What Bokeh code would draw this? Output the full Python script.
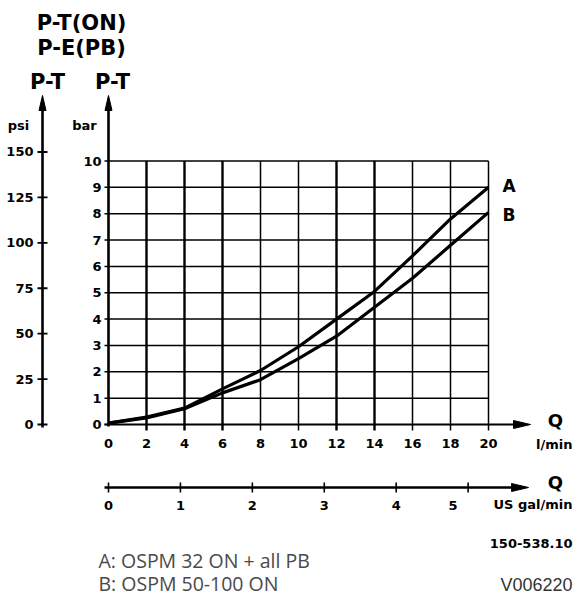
from bokeh.plotting import figure
from bokeh.models import Range1d
from bokeh.embed import file_html
from bokeh.resources import INLINE
from bokeh.core.properties import value

# ---------------- data ----------------
flow_lpm = [0, 2, 4, 6, 8, 10, 12, 14, 16, 18, 20]
curve_a_bar = [0.05, 0.28, 0.62, 1.35, 2.05, 2.95, 4.0, 5.05, 6.4, 7.8, 9.0]
curve_b_bar = [0.05, 0.25, 0.6, 1.2, 1.7, 2.5, 3.35, 4.45, 5.55, 6.8, 8.05]

lpm_ticks = [0, 2, 4, 6, 8, 10, 12, 14, 16, 18, 20]
bar_ticks = [0, 1, 2, 3, 4, 5, 6, 7, 8, 9, 10]
psi_ticks = [0, 25, 50, 75, 100, 125, 150]
gal_ticks = [0, 1, 2, 3, 4, 5]

PSI_PER_BAR = 14.5038
LPM_PER_GAL = 3.78541

legend_lines = ["A: OSPM 32 ON + all PB", "B: OSPM 50-100 ON"]

# ---------------- layout (pixel scale of data units) ----------------
W, H = 573, 597
PX_X = 19.0      # pixels per l/min
PX_Y = 26.35     # pixels per bar
ORIGIN_X, ORIGIN_Y = 108, 424   # canvas pixel position of (0 l/min, 0 bar)

def dx(px):
    return px / PX_X

def dy(px):
    return px / PX_Y

def X(cx):
    return (cx - ORIGIN_X) / PX_X

def Y(cy):
    return (ORIGIN_Y - cy) / PX_Y

x0 = X(0)
y1 = Y(0)
p = figure(width=W, height=H, output_backend="svg", toolbar_location=None,
           x_range=Range1d(x0, x0 + W / PX_X), y_range=Range1d(y1 - H / PX_Y, y1),
           x_axis_location=None, y_axis_location=None, title=None,
           min_border=0, min_border_left=0, min_border_right=0,
           min_border_top=0, min_border_bottom=0)
p.outline_line_color = None
for g in p.grid:
    g.visible = False
p.background_fill_color = "white"
p.border_fill_color = "white"

BOLD = value("DejaVu Sans")
INK = "black"

# ---------------- grid ----------------
xmax = lpm_ticks[-1]
ymax = bar_ticks[-1]
heavy = (2, 4, 6, 12, 14)
vx = [t for t in lpm_ticks if t != 0]
p.segment(x0=vx, y0=[-dy(6)] * len(vx), x1=vx, y1=[ymax] * len(vx),
          line_color=INK, line_width=[2.4 if t in heavy else 1.5 for t in vx])
hy = [t for t in bar_ticks if t != 0]
p.segment(x0=[-dx(4)] * len(hy), y0=hy, x1=[xmax] * len(hy), y1=hy,
          line_color=INK, line_width=1.5)

# ---------------- bar axis (left of grid) ----------------
tip_y = Y(95)
p.segment(x0=[0], y0=[-dy(2)], x1=[0], y1=[tip_y - dy(8)], line_color=INK, line_width=2.6)
p.segment(x0=[-dx(4)], y0=[0], x1=[0], y1=[0], line_color=INK, line_width=1.5)
p.patch(x=[0, -dx(3.5), dx(3.5)], y=[tip_y, tip_y - dy(15), tip_y - dy(15)],
        fill_color=INK, line_color=INK, line_width=1)
p.text(x=[-dx(7)] * len(bar_ticks), y=bar_ticks, text=[str(t) for t in bar_ticks],
       text_font=BOLD, text_font_style="bold", text_font_size="13px",
       text_align="right", text_baseline="middle", text_color=INK)

# ---------------- psi axis ----------------
psi_x = X(42)
psi_y = [t / PSI_PER_BAR for t in psi_ticks]
p.segment(x0=[psi_x], y0=[-dy(3)], x1=[psi_x], y1=[tip_y - dy(8)], line_color=INK, line_width=2.6)
p.patch(x=[psi_x, psi_x - dx(3.5), psi_x + dx(3.5)], y=[tip_y, tip_y - dy(15), tip_y - dy(15)],
        fill_color=INK, line_color=INK, line_width=1)
p.segment(x0=[psi_x - dx(5)] * len(psi_y), y0=psi_y, x1=[psi_x + dx(5)] * len(psi_y), y1=psi_y,
          line_color=INK, line_width=1.8)
p.text(x=[psi_x - dx(9)] * len(psi_ticks), y=psi_y, text=[str(t) for t in psi_ticks],
       text_font=BOLD, text_font_style="bold", text_font_size="13px",
       text_align="right", text_baseline="middle", text_color=INK)

# ---------------- axis titles (top) ----------------
p.text(x=[X(18)], y=[Y(125)], text=["psi"], text_font=BOLD, text_font_style="bold",
       text_font_size="13px", text_align="center", text_baseline="middle", text_color=INK)
p.text(x=[X(84)], y=[Y(125)], text=["bar"], text_font=BOLD, text_font_style="bold",
       text_font_size="13px", text_align="center", text_baseline="middle", text_color=INK)
p.text(x=[psi_x + dx(5), X(112)], y=[Y(81), Y(81)], text=["P-T", "P-T"], text_font=BOLD,
       text_font_style="bold", text_font_size="21px", text_align="center",
       text_baseline="middle", text_color=INK)
p.text(x=[X(81), X(81)], y=[Y(22), Y(47)], text=["P-T(ON)", "P-E(PB)"], text_font=BOLD,
       text_font_style="bold", text_font_size="21px", text_align="center",
       text_baseline="middle", text_color=INK)

# ---------------- l/min axis ----------------
lpm_tip = X(530)
p.segment(x0=[-dx(4)], y0=[0], x1=[lpm_tip - dx(8)], y1=[0], line_color=INK, line_width=2)
p.patch(x=[lpm_tip, lpm_tip - dx(17), lpm_tip - dx(17)], y=[0, dy(4), -dy(4)],
        fill_color=INK, line_color=INK, line_width=1)
p.text(x=lpm_ticks, y=[Y(443)] * len(lpm_ticks), text=[str(t) for t in lpm_ticks],
       text_font=BOLD, text_font_style="bold", text_font_size="13px",
       text_align="center", text_baseline="middle", text_color=INK)
p.text(x=[X(555)], y=[Y(420)], text=["Q"], text_font=BOLD, text_font_style="bold",
       text_font_size="18px", text_align="center", text_baseline="middle", text_color=INK)
p.text(x=[X(572)], y=[Y(444)], text=["l/min"], text_font=BOLD, text_font_style="bold",
       text_font_size="13px", text_align="right", text_baseline="middle", text_color=INK)

# ---------------- US gal/min axis ----------------
gal_y = Y(487)
gal_x = [t * LPM_PER_GAL for t in gal_ticks]
gal_tip = X(528)
p.segment(x0=[-dx(4)], y0=[gal_y], x1=[gal_tip - dx(8)], y1=[gal_y], line_color=INK, line_width=2.6)
p.patch(x=[gal_tip, gal_tip - dx(17), gal_tip - dx(17)], y=[gal_y, gal_y + dy(4), gal_y - dy(4)],
        fill_color=INK, line_color=INK, line_width=1)
p.segment(x0=gal_x, y0=[gal_y - dy(5)] * len(gal_x), x1=gal_x, y1=[gal_y + dy(5)] * len(gal_x),
          line_color=INK, line_width=1.6)
p.text(x=gal_x[:-1], y=[Y(505)] * (len(gal_x) - 1), text=[str(t) for t in gal_ticks[:-1]],
       text_font=BOLD, text_font_style="bold", text_font_size="13px",
       text_align="center", text_baseline="middle", text_color=INK)
p.text(x=gal_x[-1:], y=[Y(505)], text=[str(gal_ticks[-1])], x_offset=-15,
       text_font=BOLD, text_font_style="bold", text_font_size="13px",
       text_align="center", text_baseline="middle", text_color=INK)
p.text(x=[X(555)], y=[Y(482)], text=["Q"], text_font=BOLD, text_font_style="bold",
       text_font_size="18px", text_align="center", text_baseline="middle", text_color=INK)
p.text(x=[X(572)], y=[Y(504)], text=["US gal/min"], text_font=BOLD, text_font_style="bold",
       text_font_size="13px", text_align="right", text_baseline="middle", text_color=INK)

p.text(x=[X(572)], y=[Y(543)], text=["150-538.10"], text_font=BOLD, text_font_style="bold",
       text_font_size="13px", text_align="right", text_baseline="middle", text_color=INK)

# ---------------- curves ----------------
p.line(flow_lpm, curve_a_bar, line_color=INK, line_width=3.2, line_join="round")
p.line(flow_lpm, curve_b_bar, line_color=INK, line_width=3.2, line_join="round")
p.text(x=[X(502), X(502)], y=[Y(185), Y(214)], text=["A", "B"], text_font=BOLD,
       text_font_style="bold", text_font_size="17px", text_align="left",
       text_baseline="middle", text_color=INK)

# ---------------- notes ----------------
p.text(x=[X(98), X(98)], y=[Y(560), Y(583)], text=legend_lines, text_font=value("Open Sans"),
       text_font_size="19.5px", text_align="left", text_baseline="middle", text_color="#4a4a4a")
p.text(x=[X(572)], y=[Y(584)], text=["V006220"], text_font=value("Liberation Sans"),
       text_font_size="18px", text_align="right", text_baseline="middle", text_color="#333333")

open("out.html", "w").write(file_html(p, INLINE))
